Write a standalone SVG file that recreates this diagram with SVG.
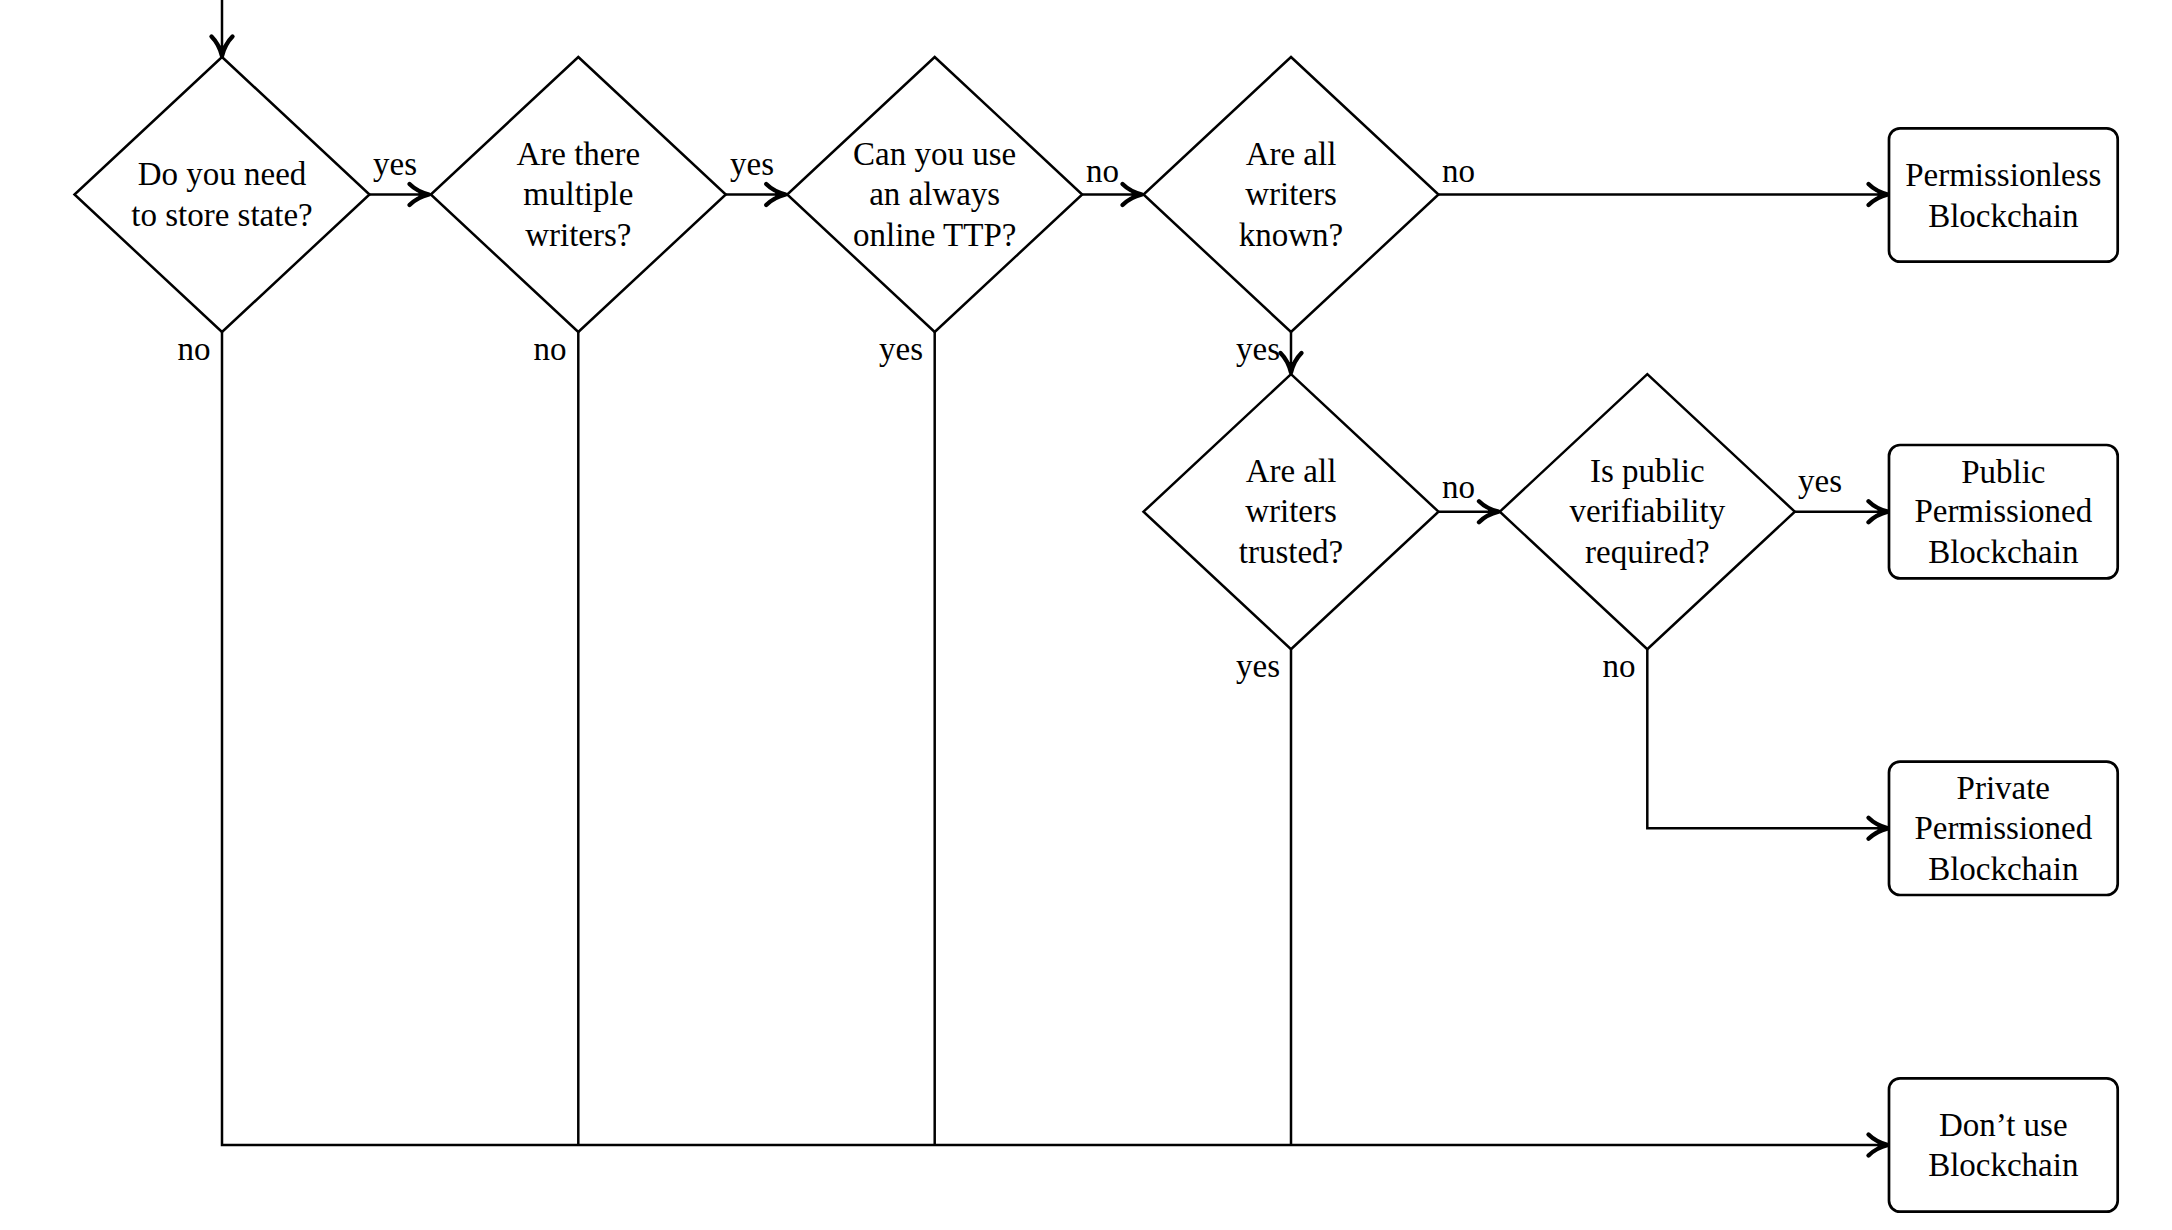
<svg xmlns="http://www.w3.org/2000/svg" width="2172" height="1230" viewBox="0 0 2172 1230">
<style>
text{font-family:"Liberation Serif","Times New Roman",serif;font-size:33px;fill:#000}
.c{text-anchor:middle}
.r{text-anchor:end}
.shape{fill:#fff;stroke:#000;stroke-width:2.5}
.box{fill:#fff;stroke:#000;stroke-width:2.7}
.edge{fill:none;stroke:#000;stroke-width:2.5}
</style>
<defs>
<marker id="arr" markerUnits="userSpaceOnUse" orient="auto" refX="0" refY="0" markerWidth="30" markerHeight="30" viewBox="-15 -10 20 20" overflow="visible">
<path d="M -13,-7 C -9,-3 -4,-1 0,0 C -4,1 -9,3 -13,7" fill="none" stroke="#000" stroke-width="2.9" stroke-linecap="round" stroke-linejoin="round"/>
<path d="M -7,-2.6 L 0,0 L -7,2.6 Z" fill="#000"/>
</marker>
</defs>
<g id="connectors">
<path class="edge" d="M222,0 V56" marker-end="url(#arr)"/>
<path class="edge" d="M369.5,194.5 H429" marker-end="url(#arr)"/>
<path class="edge" d="M725.8,194.5 H785.7" marker-end="url(#arr)"/>
<path class="edge" d="M1082.2,194.5 H1142" marker-end="url(#arr)"/>
<path class="edge" d="M1438.5,194.5 H1888" marker-end="url(#arr)"/>
<path class="edge" d="M1291,332 V372.5" marker-end="url(#arr)"/>
<path class="edge" d="M1438.5,511.7 H1498.5" marker-end="url(#arr)"/>
<path class="edge" d="M1794.8,511.7 H1888" marker-end="url(#arr)"/>
<path class="edge" d="M1647.3,649.2 V828.3 H1888" marker-end="url(#arr)"/>
<path class="edge" d="M222,332 V1145 H1888" marker-end="url(#arr)"/>
<path class="edge" d="M578.3,332 V1145"/>
<path class="edge" d="M934.7,332 V1145"/>
<path class="edge" d="M1291,649.2 V1145"/>
<text x="373" y="175">yes</text>
<text x="730" y="175">yes</text>
<text x="1086" y="181.7">no</text>
<text x="1442" y="181.7">no</text>
<text class="r" x="1280" y="360">yes</text>
<text x="1442" y="498.3">no</text>
<text x="1798" y="491.7">yes</text>
<text class="r" x="210.5" y="360">no</text>
<text class="r" x="566.5" y="360">no</text>
<text class="r" x="923" y="360">yes</text>
<text class="r" x="1280" y="677">yes</text>
<text class="r" x="1635.5" y="677">no</text>
</g>
<g id="d1">
<polygon class="shape" points="222,57 369.5,194.5 222,332 74.5,194.5"/>
<text class="c" x="222" y="185">Do you need</text>
<text class="c" x="222" y="226">to store state?</text>
</g>
<g id="d2">
<polygon class="shape" points="578.3,57 725.8,194.5 578.3,332 430.8,194.5"/>
<text class="c" x="578.3" y="165">Are there</text>
<text class="c" x="578.3" y="205">multiple</text>
<text class="c" x="578.3" y="245.5">writers?</text>
</g>
<g id="d3">
<polygon class="shape" points="934.7,57 1082.2,194.5 934.7,332 787.2,194.5"/>
<text class="c" x="934.7" y="165">Can you use</text>
<text class="c" x="934.7" y="205">an always</text>
<text class="c" x="934.7" y="245.5">online TTP?</text>
</g>
<g id="d4">
<polygon class="shape" points="1291,57 1438.5,194.5 1291,332 1143.5,194.5"/>
<text class="c" x="1291" y="165">Are all</text>
<text class="c" x="1291" y="205">writers</text>
<text class="c" x="1291" y="245.5">known?</text>
</g>
<g id="d5">
<polygon class="shape" points="1291,374.2 1438.5,511.7 1291,649.2 1143.5,511.7"/>
<text class="c" x="1291" y="482.2">Are all</text>
<text class="c" x="1291" y="522.2">writers</text>
<text class="c" x="1291" y="562.7">trusted?</text>
</g>
<g id="d6">
<polygon class="shape" points="1647.3,374.2 1794.8,511.7 1647.3,649.2 1499.8,511.7"/>
<text class="c" x="1647.3" y="482.2">Is public</text>
<text class="c" x="1647.3" y="522.2">verifiability</text>
<text class="c" x="1647.3" y="562.7">required?</text>
</g>
<g id="b1">
<rect class="box" x="1889" y="128.3" width="228.7" height="133.4" rx="11"/>
<text class="c" x="2003.3" y="186">Permissionless</text>
<text class="c" x="2003.3" y="226.5">Blockchain</text>
</g>
<g id="b2">
<rect class="box" x="1889" y="445" width="228.7" height="133.4" rx="11"/>
<text class="c" x="2003.3" y="482.5">Public</text>
<text class="c" x="2003.3" y="522">Permissioned</text>
<text class="c" x="2003.3" y="563">Blockchain</text>
</g>
<g id="b3">
<rect class="box" x="1889" y="761.6" width="228.7" height="133.4" rx="11"/>
<text class="c" x="2003.3" y="799">Private</text>
<text class="c" x="2003.3" y="838.5">Permissioned</text>
<text class="c" x="2003.3" y="879.5">Blockchain</text>
</g>
<g id="b4">
<rect class="box" x="1889" y="1078.3" width="228.7" height="133.4" rx="11"/>
<text class="c" x="2003.3" y="1135.5">Don’t use</text>
<text class="c" x="2003.3" y="1176">Blockchain</text>
</g>
</svg>
